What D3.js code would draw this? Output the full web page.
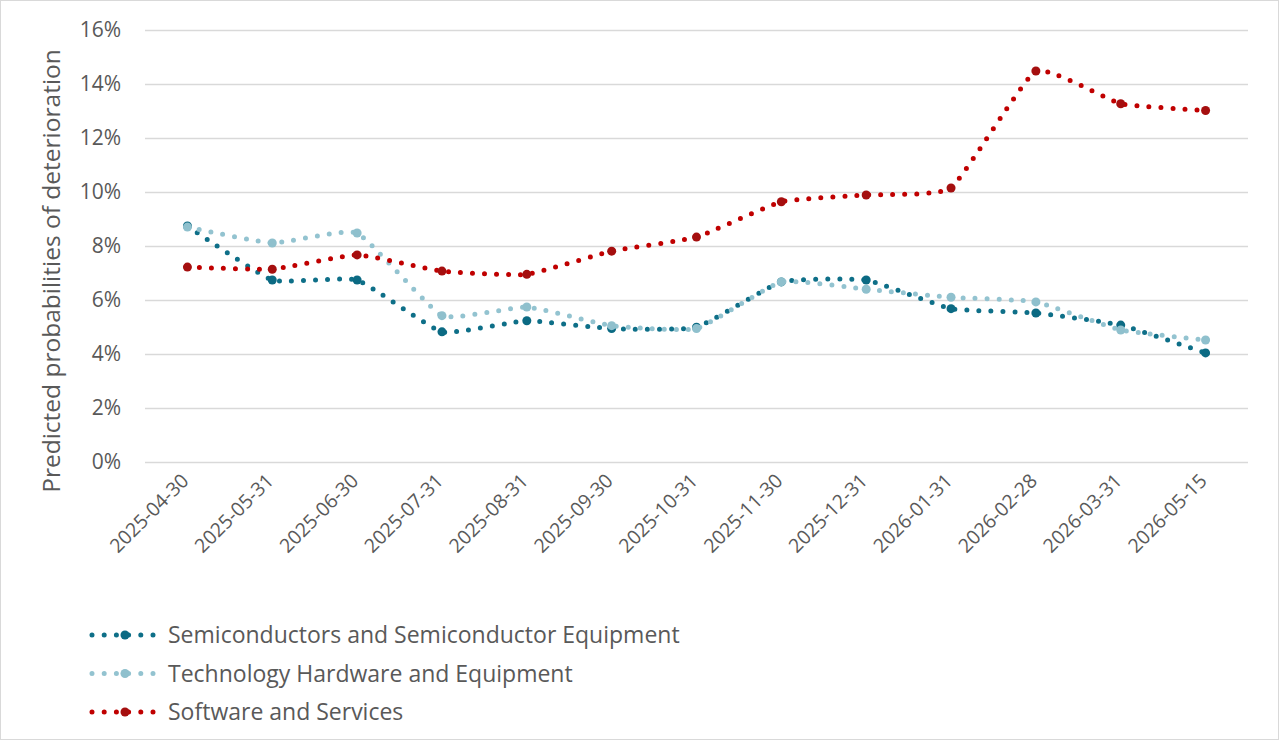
<!DOCTYPE html>
<html>
<head>
<meta charset="utf-8">
<script src="https://cdn.jsdelivr.net/npm/d3@7"></script>
<style>
  body { margin: 0; background: #fff; }
  text { font-family: "Open Sans", "Liberation Sans", Arial, sans-serif; fill: #595959; }
</style>
</head>
<body>
<div id="chart"></div>
<script>
// datos
const dates = ['2025-04-30','2025-05-31','2025-06-30','2025-07-31','2025-08-31','2025-09-30','2025-10-31','2025-11-30','2025-12-31','2026-01-31','2026-02-28','2026-03-31','2026-05-15']
const semiValues = [8.74, 6.74, 6.74, 4.82, 5.23, 4.94, 4.99, 6.67, 6.74, 5.68, 5.52, 5.07, 4.04]
const techValues = [8.70, 8.11, 8.48, 5.42, 5.74, 5.05, 4.94, 6.67, 6.40, 6.10, 5.93, 4.89, 4.52]
const softValues = [7.22, 7.14, 7.67, 7.07, 6.95, 7.81, 8.33, 9.64, 9.89, 10.15, 14.48, 13.27, 13.02]
const seriesNames = ['Semiconductors and Semiconductor Equipment', 'Technology Hardware and Equipment', 'Software and Services']
const yTicks = [0, 0.02, 0.04, 0.06, 0.08, 0.10, 0.12, 0.14, 0.16]

const width = 1280
const height = 741
const margin = { top: 30, right: 32, bottom: 279, left: 145 }

const lineColors = ['#0E6F88', '#93C3D0', '#C00000']
const markerColors = ['#0B6A83', '#8FC0CD', '#A50F0F']

const series = [semiValues, techValues, softValues].map((vals, i) => ({
    name: seriesNames[i],
    values: vals.map((v, j) => ({ date: dates[j], value: v / 100 }))
}))

const svg = d3.select('#chart').append('svg').attr('width', width).attr('height', height)

svg.append('rect')
    .attr('x', 0.5).attr('y', 0.5)
    .attr('width', width - 2).attr('height', height - 2)
    .attr('fill', '#fff').attr('stroke', '#d9d9d9')

const x = d3.scalePoint().domain(dates).range([margin.left, width - margin.right]).padding(0.5)
const y = d3.scaleLinear().domain([0, 0.16]).range([462, margin.top])

// eje y con lineas de rejilla
const yAxis = d3.axisLeft(y).tickValues(yTicks).tickFormat(d3.format('.0%'))
    .tickSize(-(width - margin.right - margin.left)).tickPadding(24)
const yAxisGroup = svg.append('g').attr('class', 'yAxisGroup')
    .attr('transform', `translate(${margin.left}, 0)`)
    .call(yAxis)
yAxisGroup.select('.domain').remove()
yAxisGroup.selectAll('line').attr('stroke', '#d9d9d9').attr('stroke-width', 1.5)
yAxisGroup.selectAll('text').style('font-size', '21px').attr('fill', '#595959')

// eje x
const xAxis = d3.axisBottom(x).tickSize(0).tickPadding(0)
const xAxisGroup = svg.append('g').attr('class', 'xAxisGroup')
    .attr('transform', `translate(0, 462)`)
    .call(xAxis)
xAxisGroup.select('.domain').remove()
xAxisGroup.selectAll('text')
    .style('font-size', '19.5px')
    .attr('fill', '#595959')
    .attr('text-anchor', 'end')
    .attr('dy', null)
    .attr('y', 0)
    .attr('transform', 'translate(2, 20) rotate(-45)')

// titulo eje y
svg.append('text')
    .attr('transform', `translate(60, 271) rotate(-90)`)
    .attr('text-anchor', 'middle')
    .style('font-size', '24.5px')
    .text('Predicted probabilities of deterioration')

// lineas
const line = d3.line()
    .x(d => x(d.date))
    .y(d => y(d.value))
    .curve(d3.curveCardinal.tension(0.6))

const seriesGroup = svg.append('g').attr('class', 'seriesGroup')
series.forEach((s, i) => {
    const g = seriesGroup.append('g')
    g.append('path')
        .datum(s.values)
        .attr('d', line)
        .attr('fill', 'none')
        .attr('stroke', lineColors[i])
        .attr('stroke-width', 5)
        .attr('stroke-linecap', 'round')
        .attr('stroke-dasharray', '0 12')
    g.selectAll('circle').data(s.values).enter()
        .append('circle')
        .attr('cx', d => x(d.date))
        .attr('cy', d => y(d.value))
        .attr('r', 4.5)
        .attr('fill', markerColors[i])
})

// leyenda
const legend = svg.append('g').attr('class', 'legend')
series.forEach((s, i) => {
    const ly = 635 + i * 38.5
    const g = legend.append('g').attr('transform', `translate(0, ${ly})`)
    g.append('line')
        .attr('x1', 92).attr('x2', 153)
        .attr('y1', 0).attr('y2', 0)
        .attr('stroke', lineColors[i])
        .attr('stroke-width', 5)
        .attr('stroke-linecap', 'round')
        .attr('stroke-dasharray', '0 12.2')
    g.append('circle').attr('cx', 125).attr('cy', 0).attr('r', 4.5).attr('fill', markerColors[i])
    g.append('text')
        .attr('x', 168).attr('y', 0).attr('dy', '0.35em')
        .style('font-size', '23px')
        .text(s.name)
})
</script>
</body>
</html>
